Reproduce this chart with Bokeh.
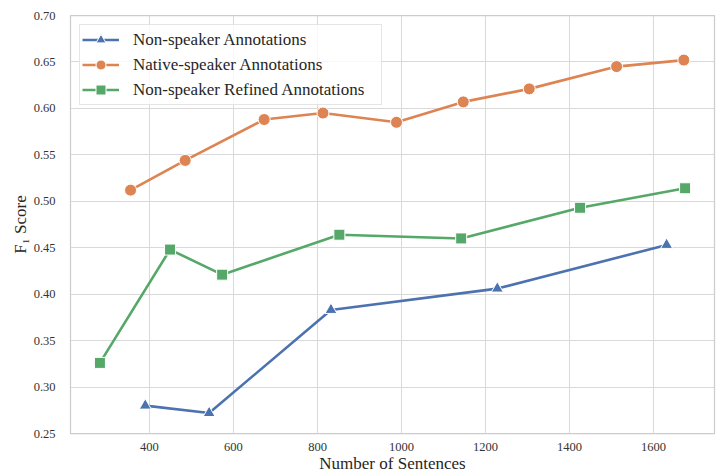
from bokeh.plotting import figure
from bokeh.models import Legend, LegendItem, FixedTicker, NumeralTickFormatter, Range1d
from bokeh.embed import file_html
from bokeh.resources import INLINE

# Data
non_x = [390, 542, 832, 1228, 1631]
non_y = [0.280, 0.272, 0.383, 0.406, 0.453]
native_x = [355, 485, 673, 813, 988, 1147, 1304, 1512, 1672]
native_y = [0.512, 0.544, 0.588, 0.595, 0.585, 0.607, 0.621, 0.645, 0.652]
refined_x = [282, 449, 573, 852, 1142, 1425, 1675]
refined_y = [0.326, 0.448, 0.421, 0.464, 0.460, 0.493, 0.514]

x_ticks = [400, 600, 800, 1000, 1200, 1400, 1600]
y_ticks = [0.25, 0.30, 0.35, 0.40, 0.45, 0.50, 0.55, 0.60, 0.65, 0.70]

labels = ["Non-speaker Annotations", "Native-speaker Annotations", "Non-speaker Refined Annotations"]
colors = ["#4C72B0", "#DD8452", "#55A868"]

FONT = "Liberation Serif"

p = figure(width=722, height=475, output_backend="svg", toolbar_location=None,
           x_range=Range1d(212, 1745), y_range=Range1d(0.25, 0.70),
           min_border_left=70, min_border_right=8, min_border_top=15, min_border_bottom=40)

p.background_fill_color = "white"
p.outline_line_color = "#cccccc"
p.outline_line_width = 1.25

for g in (p.xgrid, p.ygrid):
    g.grid_line_color = "#d9d9d9"
    g.grid_line_width = 1

p.xaxis.ticker = FixedTicker(ticks=x_ticks)
p.yaxis.ticker = FixedTicker(ticks=y_ticks)
p.yaxis.formatter = NumeralTickFormatter(format="0.00")

for ax in (p.xaxis[0], p.yaxis[0]):
    ax.axis_line_color = None
    ax.major_tick_line_color = None
    ax.minor_tick_line_color = None
    ax.major_label_text_font = FONT
    ax.major_label_text_font_size = "12.5px"
    ax.major_label_text_color = "#333333"
    ax.axis_label_text_font = FONT
    ax.axis_label_text_font_size = "17px"
    ax.axis_label_text_font_style = "normal"
    ax.axis_label_text_color = "#262626"

p.xaxis.axis_label = "Number of Sentences"
p.yaxis.axis_label = "F\u2081 Score"
p.xaxis.major_label_standoff = 3
p.xaxis.axis_label_standoff = 0
p.yaxis.major_label_standoff = 9
p.yaxis.axis_label_standoff = 1

items = []
series = [(non_x, non_y, "triangle", 12), (native_x, native_y, "circle", 12), (refined_x, refined_y, "square", 11)]
for (xs, ys, marker, size), lab, col in zip(series, labels, colors):
    l = p.line(xs, ys, line_color=col, line_width=2.6)
    s = p.scatter(xs, ys, marker=marker, size=size, fill_color=col, line_color="white", line_width=1)
    items.append(LegendItem(label=lab, renderers=[l, s]))

legend = Legend(items=items, location="top_left")
legend.margin = 9
legend.padding = 2
legend.spacing = 0
legend.glyph_width = 37
legend.glyph_height = 25
legend.label_height = 25
legend.label_width = 246
legend.label_standoff = 14
legend.label_text_font = FONT
legend.label_text_font_size = "17px"
legend.label_text_color = "#262626"
legend.border_line_color = "#cccccc"
legend.border_line_width = 1
legend.background_fill_color = "white"
legend.background_fill_alpha = 0.8
p.add_layout(legend, "center")

open("out.html", "w").write(file_html(p, INLINE))
